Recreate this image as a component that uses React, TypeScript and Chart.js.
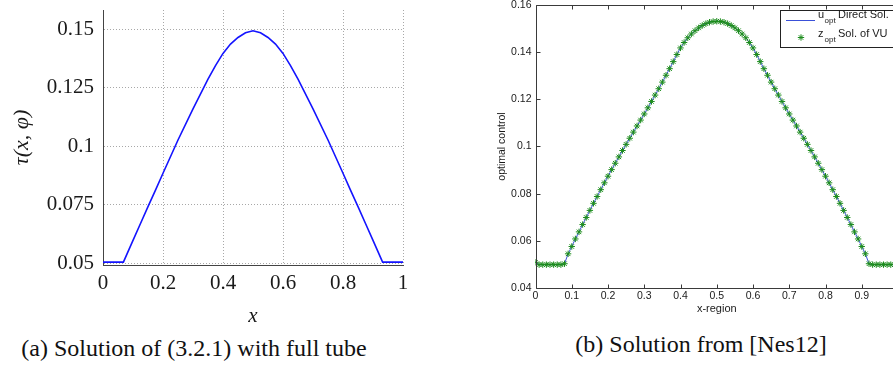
import React, { useEffect, useRef } from "react";
import { Chart, registerables } from "chart.js";

Chart.register(...registerables);

// ---------- Left panel (a) ----------
const LEFT_X = [0, 0.068, 0.1, 0.125, 0.15, 0.175, 0.2, 0.25, 0.3, 0.35, 0.375, 0.4, 0.425, 0.45, 0.475, 0.5,
  0.525, 0.55, 0.575, 0.6, 0.625, 0.65, 0.7, 0.75, 0.8, 0.825, 0.85, 0.875, 0.9, 0.932, 1];
const LEFT_Y = [0.0505, 0.0505, 0.0598, 0.067, 0.0742, 0.0813, 0.0885, 0.1027, 0.116, 0.1287, 0.1345, 0.1397, 0.1437, 0.1465, 0.1485, 0.1494,
  0.1485, 0.1465, 0.1437, 0.1397, 0.1345, 0.1287, 0.116, 0.1027, 0.0885, 0.0813, 0.0742, 0.067, 0.0598, 0.0505, 0.0505];
const LEFT_X_TICKS = [0, 0.2, 0.4, 0.6, 0.8, 1];
const LEFT_X_LABELS = ["0", "0.2", "0.4", "0.6", "0.8", "1"];
const LEFT_Y_TICKS = [0.05, 0.075, 0.1, 0.125, 0.15];
const LEFT_Y_LABELS = ["0.05", "0.075", "0.1", "0.125", "0.15"];
const LEFT_X_TITLE = "x";
const LEFT_Y_TITLE = "τ(x, φ)";

// ---------- Right panel (b) ----------
const RIGHT_X = [
  0, 0.01, 0.02, 0.03, 0.04, 0.05, 0.06, 0.07, 0.08, 0.09,
  0.1, 0.11, 0.12, 0.13, 0.14, 0.15, 0.16, 0.17, 0.18, 0.19,
  0.2, 0.21, 0.22, 0.23, 0.24, 0.25, 0.26, 0.27, 0.28, 0.29,
  0.3, 0.31, 0.32, 0.33, 0.34, 0.35, 0.36, 0.37, 0.38, 0.39,
  0.4, 0.41, 0.42, 0.43, 0.44, 0.45, 0.46, 0.47, 0.48, 0.49,
  0.5, 0.51, 0.52, 0.53, 0.54, 0.55, 0.56, 0.57, 0.58, 0.59,
  0.6, 0.61, 0.62, 0.63, 0.64, 0.65, 0.66, 0.67, 0.68, 0.69,
  0.7, 0.71, 0.72, 0.73, 0.74, 0.75, 0.76, 0.77, 0.78, 0.79,
  0.8, 0.81, 0.82, 0.83, 0.84, 0.85, 0.86, 0.87, 0.88, 0.89,
  0.9, 0.91, 0.92, 0.93, 0.94, 0.95, 0.96, 0.97, 0.98, 0.99, 1
];
const RIGHT_Y = [
  0.0509, 0.0499, 0.0499, 0.0499, 0.0499, 0.0499, 0.0499, 0.0499, 0.0503, 0.0545,
  0.0576, 0.0608, 0.0638, 0.0669, 0.0699, 0.0729, 0.0759, 0.0788, 0.0817, 0.0846,
  0.0874, 0.0902, 0.0929, 0.0956, 0.0983, 0.1009, 0.1035, 0.1061, 0.1087, 0.1112,
  0.1138, 0.1164, 0.1191, 0.1218, 0.1245, 0.1273, 0.1302, 0.133, 0.136, 0.139,
  0.1418, 0.1441, 0.1461, 0.1477, 0.1491, 0.1503, 0.1513, 0.1521, 0.1527, 0.153,
  0.1531, 0.153, 0.1527, 0.1521, 0.1513, 0.1503, 0.1491, 0.1477, 0.1461, 0.1441,
  0.1418, 0.139, 0.136, 0.133, 0.1302, 0.1273, 0.1245, 0.1218, 0.1191, 0.1164,
  0.1138, 0.1112, 0.1087, 0.1061, 0.1035, 0.1009, 0.0983, 0.0956, 0.0929, 0.0902,
  0.0874, 0.0846, 0.0817, 0.0788, 0.0759, 0.0729, 0.0699, 0.0669, 0.0638, 0.0608,
  0.0576, 0.0545, 0.0503, 0.0499, 0.0499, 0.0499, 0.0499, 0.0499, 0.0499, 0.0499, 0.0509
];
const RIGHT_X_TICKS = [0, 0.1, 0.2, 0.3, 0.4, 0.5, 0.6, 0.7, 0.8, 0.9, 1];
const RIGHT_X_LABELS = ["0", "0.1", "0.2", "0.3", "0.4", "0.5", "0.6", "0.7", "0.8", "0.9", "1"];
const RIGHT_Y_TICKS = [0.04, 0.06, 0.08, 0.1, 0.12, 0.14, 0.16];
const RIGHT_Y_LABELS = ["0.04", "0.06", "0.08", "0.1", "0.12", "0.14", "0.16"];
const RIGHT_X_TITLE = "x-region";
const RIGHT_Y_TITLE = "optimal control";
const LEGEND_NAMES = ["u", "z"];
const LEGEND_SUBS = ["opt", "opt"];
const LEGEND_TEXTS = ["Direct Sol.", "Sol. of VU"];

const CAPTIONS = ["(a) Solution of (3.2.1) with full tube", "(b) Solution from [Nes12]"];

const SERIF = "'Liberation Serif', 'Times New Roman', serif";
const SANS = "'Liberation Sans', Arial, sans-serif";
const LINE_BLUE = "#3a50d8";
const MARK_GREEN = "#1c8c1c";

const OFF = 30; // canvases are shifted up so edge tick labels never push the plot area

function drawStar(ctx: CanvasRenderingContext2D, x: number, y: number, r: number) {
  ctx.beginPath();
  ctx.moveTo(x - r, y); ctx.lineTo(x + r, y);
  ctx.moveTo(x, y - r); ctx.lineTo(x, y + r);
  const d = r * Math.SQRT1_2;
  ctx.moveTo(x - d, y - d); ctx.lineTo(x + d, y + d);
  ctx.moveTo(x - d, y + d); ctx.lineTo(x + d, y - d);
  ctx.stroke();
}

const boxPlugin = {
  id: "matlabBox",
  afterDraw(chart: any) {
    const { ctx, chartArea: a, scales } = chart;
    const xs = scales.x, ys = scales.y;
    ctx.save();
    ctx.strokeStyle = "#3a3a3a";
    ctx.lineWidth = 1;
    const L = Math.round(a.left) + 0.5, R = Math.round(a.right) + 0.5;
    const T = Math.round(a.top) + 0.5, B = Math.round(a.bottom) + 0.5;
    ctx.beginPath();
    ctx.moveTo(L, T); ctx.lineTo(R, T); ctx.lineTo(R, B); ctx.lineTo(L, B); ctx.closePath();
    for (const t of xs.ticks) {
      const px = Math.round(xs.getPixelForValue(t.value)) + 0.5;
      ctx.moveTo(px, B); ctx.lineTo(px, B - 4);
      ctx.moveTo(px, T); ctx.lineTo(px, T + 4);
    }
    for (const t of ys.ticks) {
      const py = Math.round(ys.getPixelForValue(t.value)) + 0.5;
      ctx.moveTo(L, py); ctx.lineTo(L + 4, py);
      ctx.moveTo(R, py); ctx.lineTo(R - 4, py);
    }
    ctx.stroke();

    // legend
    const bx = 330.5, by = 10.5 + OFF, bw = 120, bh = 37;
    ctx.fillStyle = "#ffffff";
    ctx.fillRect(bx, by, bw, bh);
    ctx.strokeStyle = "#222";
    ctx.strokeRect(bx, by, bw, bh);
    ctx.strokeStyle = LINE_BLUE;
    ctx.lineWidth = 1;
    ctx.beginPath();
    ctx.moveTo(336, 20.5 + OFF); ctx.lineTo(365, 20.5 + OFF);
    ctx.stroke();
    ctx.strokeStyle = MARK_GREEN;
    ctx.lineWidth = 1;
    drawStar(ctx, 351, 37.5 + OFF, 3.2);

    ctx.fillStyle = "#1a1a1a";
    ctx.textBaseline = "alphabetic";
    ctx.textAlign = "left";
    const rows = [18 + OFF, 36.5 + OFF];
    for (let i = 0; i < 2; i++) {
      ctx.font = `11px ${SANS}`;
      ctx.fillText(LEGEND_NAMES[i], 368, rows[i]);
      ctx.fillText(LEGEND_TEXTS[i], 388, rows[i]);
      ctx.font = `8px ${SANS}`;
      ctx.fillText(LEGEND_SUBS[i], 374.5, rows[i] + 5);
    }
    ctx.restore();
  },
};

function LeftChart() {
  const ref = useRef<HTMLCanvasElement | null>(null);
  useEffect(() => {
    if (!ref.current) return;
    const tickFont = { family: SERIF, size: 21 };
    const chart = new Chart(ref.current, {
      type: "line",
      data: {
        datasets: [
          {
            data: LEFT_X.map((x, i) => ({ x, y: LEFT_Y[i] })),
            borderColor: "#1414ff",
            borderWidth: 1.6,
            pointRadius: 0,
            tension: 0,
            fill: false,
          },
        ],
      },
      options: {
        responsive: false,
        animation: false,
        events: [],
        layout: { padding: { left: 0, right: 47, top: 10 + OFF, bottom: 0 } },
        plugins: { legend: { display: false }, tooltip: { enabled: false } },
        scales: {
          x: {
            type: "linear",
            min: 0,
            max: 1,
            afterBuildTicks: (s: any) => { s.ticks = LEFT_X_TICKS.map((value) => ({ value })); },
            afterFit: (s: any) => { s.height = 65; },
            grid: { color: "#a8a8a8", lineWidth: 1, drawTicks: false },
            border: { color: "#444", width: 1, dash: [1, 2] },
            ticks: {
              padding: 6,
              autoSkip: false,
              maxRotation: 0,
              font: tickFont,
              color: "#1a1a1a",
              callback: (_v: any, i: number) => LEFT_X_LABELS[i],
            },
            title: {
              display: true,
              text: LEFT_X_TITLE,
              color: "#1a1a1a",
              font: { family: SERIF, size: 21, style: "italic" },
              padding: { top: 0, bottom: 1 },
            },
          },
          y: {
            type: "linear",
            min: 0.04927,
            max: 0.15825,
            afterBuildTicks: (s: any) => { s.ticks = LEFT_Y_TICKS.map((value) => ({ value })); },
            afterFit: (s: any) => { s.width = 103; },
            grid: { color: "#a8a8a8", lineWidth: 1, drawTicks: false },
            border: { color: "#444", width: 1, dash: [1, 2] },
            ticks: {
              padding: 9,
              autoSkip: false,
              font: tickFont,
              color: "#1a1a1a",
              callback: (_v: any, i: number) => LEFT_Y_LABELS[i],
            },
            title: {
              display: true,
              text: LEFT_Y_TITLE,
              color: "#1a1a1a",
              font: { family: SERIF, size: 22, style: "italic" },
              padding: { top: 9, bottom: 0 },
            },
          },
        },
      },
    } as any);
    return () => chart.destroy();
  }, []);
  return (
    <canvas
      ref={ref}
      width={450}
      height={360}
      style={{ position: "absolute", left: 0, top: -OFF, width: 450, height: 360 }}
    />
  );
}

function RightChart() {
  const ref = useRef<HTMLCanvasElement | null>(null);
  useEffect(() => {
    if (!ref.current) return;
    const tickFont = { family: SANS, size: 10.5 };
    const chart = new Chart(ref.current, {
      type: "line",
      data: {
        datasets: [
          {
            data: RIGHT_X.map((x, i) => ({ x, y: RIGHT_Y[i] })),
            showLine: false,
            pointStyle: "star",
            pointRadius: 3.2,
            pointBorderWidth: 1,
            pointBorderColor: MARK_GREEN,
            pointBackgroundColor: MARK_GREEN,
            borderColor: MARK_GREEN,
            order: 0,
          },
          {
            data: RIGHT_X.map((x, i) => ({ x, y: RIGHT_Y[i] })),
            borderColor: LINE_BLUE,
            borderWidth: 1,
            pointRadius: 0,
            tension: 0,
            fill: false,
            order: 1,
          },
        ],
      },
      options: {
        responsive: false,
        animation: false,
        events: [],
        layout: { padding: { left: 0, right: 12, top: 5 + OFF, bottom: 0 } },
        plugins: { legend: { display: false }, tooltip: { enabled: false } },
        scales: {
          x: {
            type: "linear",
            min: 0,
            max: 1,
            afterBuildTicks: (s: any) => { s.ticks = RIGHT_X_TICKS.map((value) => ({ value })); },
            afterFit: (s: any) => { s.height = 42; },
            grid: { display: false, drawTicks: false },
            border: { display: false },
            ticks: {
              padding: 2,
              autoSkip: false,
              maxRotation: 0,
              font: tickFont,
              color: "#1a1a1a",
              callback: (_v: any, i: number) => RIGHT_X_LABELS[i],
            },
            title: {
              display: true,
              text: RIGHT_X_TITLE,
              color: "#1a1a1a",
              font: { family: SANS, size: 11 },
              padding: { top: 0, bottom: 14 },
            },
          },
          y: {
            type: "linear",
            min: 0.04,
            max: 0.16,
            afterBuildTicks: (s: any) => { s.ticks = RIGHT_Y_TICKS.map((value) => ({ value })); },
            afterFit: (s: any) => { s.width = 85.5; },
            grid: { display: false, drawTicks: false },
            border: { display: false },
            ticks: {
              padding: 4,
              autoSkip: false,
              font: tickFont,
              color: "#1a1a1a",
              callback: (_v: any, i: number) => RIGHT_Y_LABELS[i],
            },
            title: {
              display: true,
              text: RIGHT_Y_TITLE,
              color: "#1a1a1a",
              font: { family: SANS, size: 10.5 },
              padding: { top: 45.4, bottom: 0 },
            },
          },
        },
      },
      plugins: [boxPlugin],
    } as any);
    return () => chart.destroy();
  }, []);
  return (
    <canvas
      ref={ref}
      width={460}
      height={360}
      style={{ position: "absolute", left: 450, top: -OFF, width: 460, height: 360 }}
    />
  );
}

export default function App() {
  const capStyle: React.CSSProperties = {
    position: "absolute",
    transform: "translate(-50%, -50%)",
    whiteSpace: "nowrap",
    fontFamily: SERIF,
    fontSize: 24,
    lineHeight: "28px",
    color: "#111",
  };
  return (
    <div
      style={{
        position: "absolute",
        left: 0,
        top: 0,
        width: 893,
        height: 370,
        overflow: "hidden",
        background: "#ffffff",
      }}
    >
      <LeftChart />
      <RightChart />
      <div style={{ ...capStyle, left: 194, top: 348 }}>{CAPTIONS[0]}</div>
      <div style={{ ...capStyle, left: 701, top: 344 }}>{CAPTIONS[1]}</div>
    </div>
  );
}
